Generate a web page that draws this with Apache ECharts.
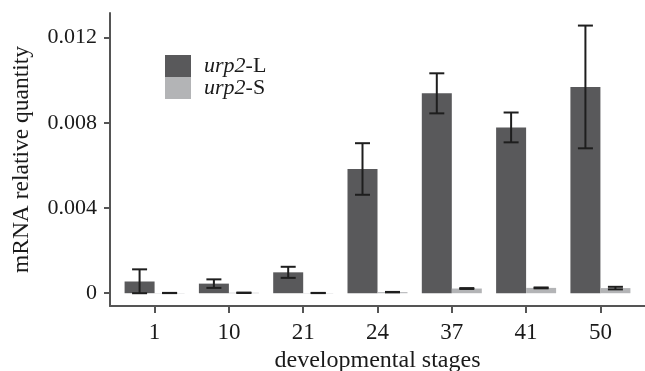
<!DOCTYPE html>
<html>
<head>
<meta charset="utf-8">
<script src="https://cdn.jsdelivr.net/npm/echarts@6/dist/echarts.min.js"></script>
<style>
  html, body { margin: 0; padding: 0; background: #fff; }
  #chart { width: 645px; height: 371px; }
</style>
</head>
<body>
<div id="chart"></div>
<script>
// developmental stages (x positions 1..7 on the axis)
var stages = ["1", "10", "21", "24", "37", "41", "50"];
var stagePos = [1, 2, 3, 4, 5, 6, 7];

// urp2-L
var longMean = [0.00055, 0.00045, 0.00098, 0.00583, 0.00938, 0.00778, 0.00968];
var longErr = [0.00057, 0.0002, 0.00026, 0.00121, 0.00094, 0.0007, 0.00288];
// urp2-S
var shortMean = [0.00001, 0.00002, 0.00001, 0.00005, 0.00022, 0.00025, 0.00024];
var shortErr = [0.000005, 0.00001, 0.000005, 0.00001, 0.00002, 0.00002, 0.00006];

var yTicks = [0, 0.004, 0.008, 0.012];

var barWidth = 30;
var font = "Liberation Serif";
var axisColor = "#555555";

var chart = echarts.init(document.getElementById("chart"));

function pairs(means) {
  return stagePos.map(function (x, i) { return [x, means[i]]; });
}
function errRows(means, errs) {
  return stagePos.map(function (x, i) { return [x, means[i], errs[i]]; });
}

function errorBar(shift) {
  return function (params, api) {
    var x = api.value(0), m = api.value(1), e = api.value(2);
    var hi = api.coord([x, m + e]);
    var lo = api.coord([x, Math.max(0, m - e)]);
    var cx = hi[0] + shift;
    var cap = 7.5;
    var style = { stroke: "#1e1e1e", lineWidth: 2 };
    return {
      type: "group",
      children: [
        { type: "line", shape: { x1: cx, y1: hi[1], x2: cx, y2: lo[1] }, style: style },
        { type: "line", shape: { x1: cx - cap, y1: hi[1], x2: cx + cap, y2: hi[1] }, style: style },
        { type: "line", shape: { x1: cx - cap, y1: lo[1], x2: cx + cap, y2: lo[1] }, style: style }
      ]
    };
  };
}

var option = {
  animation: false,
  backgroundColor: "#ffffff",
  textStyle: { fontFamily: font },
  grid: { left: 110, right: 0, top: 13, bottom: 65, containLabel: false, outerBoundsMode: "none" },
  legend: {
    orient: "vertical",
    left: 165,
    top: 55,
    padding: 0,
    itemWidth: 26,
    itemHeight: 22,
    itemGap: 0,
    icon: "rect",
    selectedMode: false,
    data: ["urp2-L", "urp2-S"],
    formatter: function (name) {
      return "{i|urp2}" + name.slice(4);
    },
    textStyle: {
      fontFamily: font,
      fontSize: 22,
      color: "#1a1a1a",
      padding: [0, 0, 0, 8],
      rich: {
        i: { fontFamily: font, fontSize: 22, fontStyle: "italic", color: "#1a1a1a" }
      }
    }
  },
  xAxis: {
    type: "value",
    min: 0.4,
    max: 7.6,
    name: "developmental stages",
    nameLocation: "middle",
    nameGap: 42,
    nameTextStyle: { fontFamily: font, fontSize: 24, color: "#1a1a1a" },
    splitLine: { show: false },
    axisLine: { show: true, onZero: false, lineStyle: { color: axisColor, width: 2 } },
    axisTick: { show: true, length: 7, customValues: stagePos, lineStyle: { color: axisColor, width: 2 } },
    axisLabel: {
      customValues: stagePos,
      margin: 15,
      fontFamily: font,
      fontSize: 23,
      color: "#1a1a1a",
      formatter: function (v) { return stages[Math.round(v) - 1]; }
    }
  },
  yAxis: {
    type: "value",
    min: -0.0006,
    max: 0.01315,
    name: "mRNA relative quantity",
    nameLocation: "middle",
    nameGap: 76,
    nameTextStyle: { fontFamily: font, fontSize: 23.5, color: "#1a1a1a" },
    splitLine: { show: false },
    axisLine: { show: true, onZero: false, lineStyle: { color: axisColor, width: 2 } },
    axisTick: { show: true, length: 6, customValues: yTicks, lineStyle: { color: axisColor, width: 2 } },
    axisLabel: {
      customValues: yTicks,
      margin: 13,
      fontFamily: font,
      fontSize: 22,
      color: "#1a1a1a",
      formatter: function (v) { return v === 0 ? "0" : v.toFixed(3); }
    }
  },
  series: [
    {
      name: "urp2-L",
      type: "bar",
      barWidth: barWidth,
      barGap: "0%",
      itemStyle: { color: "#59595b" },
      data: pairs(longMean)
    },
    {
      name: "urp2-S",
      type: "bar",
      barWidth: barWidth,
      barGap: "0%",
      itemStyle: { color: "#b3b4b6" },
      data: pairs(shortMean)
    },
    {
      type: "custom",
      renderItem: errorBar(-barWidth / 2),
      data: errRows(longMean, longErr),
      z: 5
    },
    {
      type: "custom",
      renderItem: errorBar(barWidth / 2),
      data: errRows(shortMean, shortErr),
      z: 5
    }
  ]
};

chart.setOption(option);
</script>
</body>
</html>
